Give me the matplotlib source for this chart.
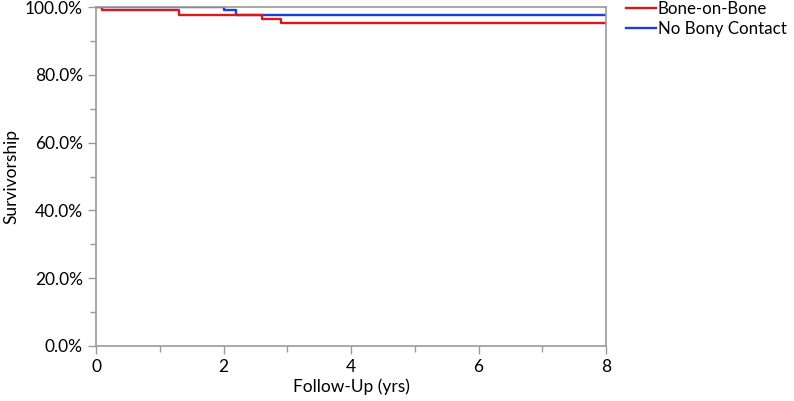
import matplotlib
matplotlib.use("Agg")
import matplotlib.pyplot as plt
from matplotlib.ticker import MultipleLocator, FuncFormatter

plt.rcParams['font.family'] = ['Lato', 'DejaVu Sans']

# Kaplan-Meier step data (years, survivorship %)
bb_time = [0.0, 0.1, 1.3, 2.6, 2.9, 8.0]
bb_surv = [100.0, 99.1, 97.7, 96.5, 95.3, 95.3]
nb_time = [0.0, 2.0, 2.2, 8.0]
nb_surv = [100.0, 99.2, 97.7, 97.7]

series_labels = ["Bone-on-Bone", "No Bony Contact"]
colors = ["#d7191c", "#1f3fd8"]

fig = plt.figure(figsize=(7.94, 4.01), dpi=100)
ax = fig.add_axes([96/794, 1-346/401, (606-96)/794, (346-7)/401])

ax.step(bb_time, bb_surv, where='post', color=colors[0], lw=1.7, label=series_labels[0], zorder=1.5)
ax.step(nb_time, nb_surv, where='post', color=colors[1], lw=1.7, label=series_labels[1], zorder=1.2)

ax.set_xlim(0, 8)
ax.set_ylim(0, 100)
ax.xaxis.set_major_locator(MultipleLocator(2))
ax.xaxis.set_minor_locator(MultipleLocator(1))
ax.yaxis.set_major_locator(MultipleLocator(20))
ax.yaxis.set_minor_locator(MultipleLocator(10))
ax.yaxis.set_major_formatter(FuncFormatter(lambda v, p: f"{v:.1f}%"))

for s in ax.spines.values():
    s.set_color('#999999')
    s.set_linewidth(1.2)
    s.set_zorder(3)
ax.tick_params(which='both', colors='#999999', labelcolor='black', labelsize=12.5)
ax.tick_params(which='major', length=6, width=1)
ax.tick_params(which='minor', length=4, width=1)

ax.set_xlabel("Follow-Up (yrs)", fontsize=12.5, labelpad=2)
ax.set_ylabel("Survivorship", fontsize=12.5, labelpad=4)

leg = fig.legend(loc='upper left', bbox_to_anchor=(626/794, 1.0 - 1/401), frameon=False,
                 fontsize=12.2, handlelength=1.75, handletextpad=0.12, labelspacing=0.25,
                 borderaxespad=0.0, borderpad=0.0)

fig.savefig("out.png", dpi=100)
